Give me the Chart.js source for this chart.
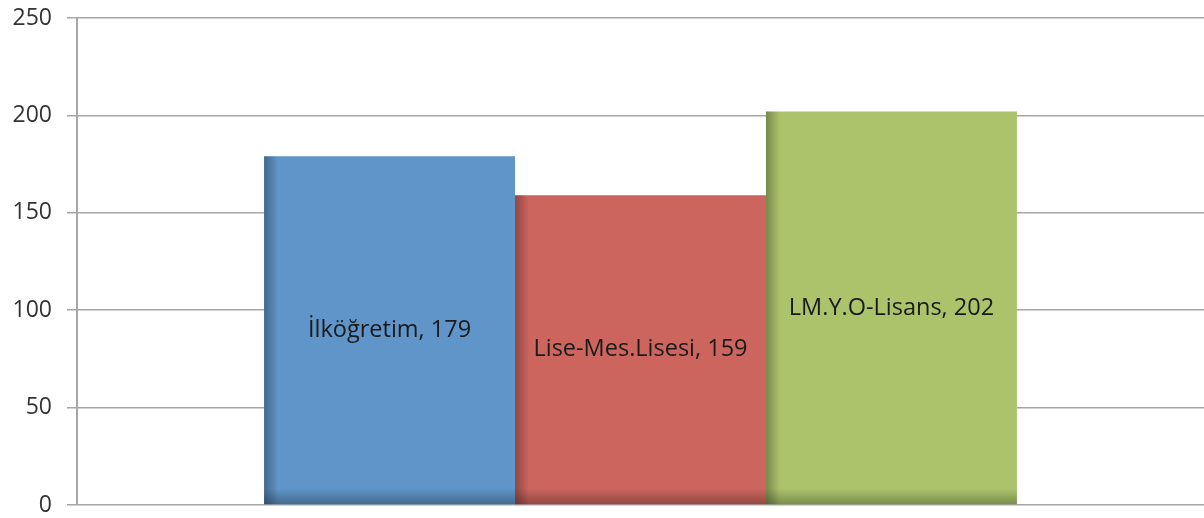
<!DOCTYPE html>
<html>
<head>
<meta charset="utf-8">
<script src="https://cdn.jsdelivr.net/npm/chart.js@4"></script>
<style>
  html, body { margin: 0; padding: 0; background: #fff; }
  #wrap { width: 1204px; height: 518px; position: relative; }
</style>
</head>
<body>
<div id="wrap"><canvas id="egitimChart"></canvas></div>
<script>
// --- veriler ---
const categories = ['İlköğretim', 'Lise-Mes.Lisesi', 'LM.Y.O-Lisans'];
const values = [179, 159, 202];
const barColors = ['#5f95c8', '#cd655f', '#abc46c'];
const yTicks = [0, 50, 100, 150, 200, 250];

// etiketler ve gölgeler (çubuk elemanlarının kendi koordinatlarından)
const barDecor = {
    id: 'barDecor',
    afterDatasetsDraw(chart) {
        const ctx = chart.ctx;
        chart.data.datasets.forEach((ds, i) => {
            const meta = chart.getDatasetMeta(i);
            meta.data.forEach((bar, j) => {
                const left = bar.x - bar.width / 2;
                const right = bar.x + bar.width / 2;
                const top = bar.y, base = bar.base;
                ctx.save();
                let g = ctx.createLinearGradient(left, 0, left + 14, 0);
                g.addColorStop(0, 'rgba(0,0,0,0.30)');
                g.addColorStop(1, 'rgba(0,0,0,0)');
                ctx.fillStyle = g;
                ctx.fillRect(left, top, 14, base - top);
                g = ctx.createLinearGradient(0, base - 16, 0, base);
                g.addColorStop(0, 'rgba(0,0,0,0)');
                g.addColorStop(1, 'rgba(0,0,0,0.28)');
                ctx.fillStyle = g;
                ctx.fillRect(left, base - 16, right - left, 16);
                ctx.fillStyle = '#1a1a1a';
                ctx.font = '23.5px "Open Sans"';
                ctx.textAlign = 'center';
                ctx.textBaseline = 'middle';
                ctx.fillText(ds.label + ', ' + ds.data[j], bar.x, (top + base) / 2);
                ctx.restore();
            });
        });
    }
};

const chartEl = document.getElementById('egitimChart');
new Chart(chartEl.getContext('2d'), {
    type: 'bar',
    data: {
        labels: [''],
        datasets: categories.map((c, i) => ({
            label: c,
            data: [values[i]],
            backgroundColor: barColors[i],
            borderWidth: 0,
            categoryPercentage: 0.668,
            barPercentage: 1
        }))
    },
    options: {
        responsive: true,
        maintainAspectRatio: false,
        animation: false,
        layout: { padding: { top: 18, bottom: 13, left: 0, right: 0 } },
        plugins: { legend: { display: false }, tooltip: { enabled: false } },
        scales: {
            x: { display: false },
            y: {
                min: 0, max: 250,
                afterBuildTicks: (scale) => { scale.ticks = yTicks.map(v => ({ value: v })); },
                afterFit: (scale) => {
                    scale.width = 77;
                    scale.paddingTop = 0;
                    scale.paddingBottom = 0;
                },
                grid: { color: '#a6a6a6', lineWidth: 1.5, tickLength: 10, drawTicks: true },
                border: { color: '#a6a6a6', width: 2 },
                ticks: { color: '#333', padding: 15, font: { family: 'Open Sans', size: 23 } }
            }
        }
    },
    plugins: [barDecor]
});
</script>
</body>
</html>
